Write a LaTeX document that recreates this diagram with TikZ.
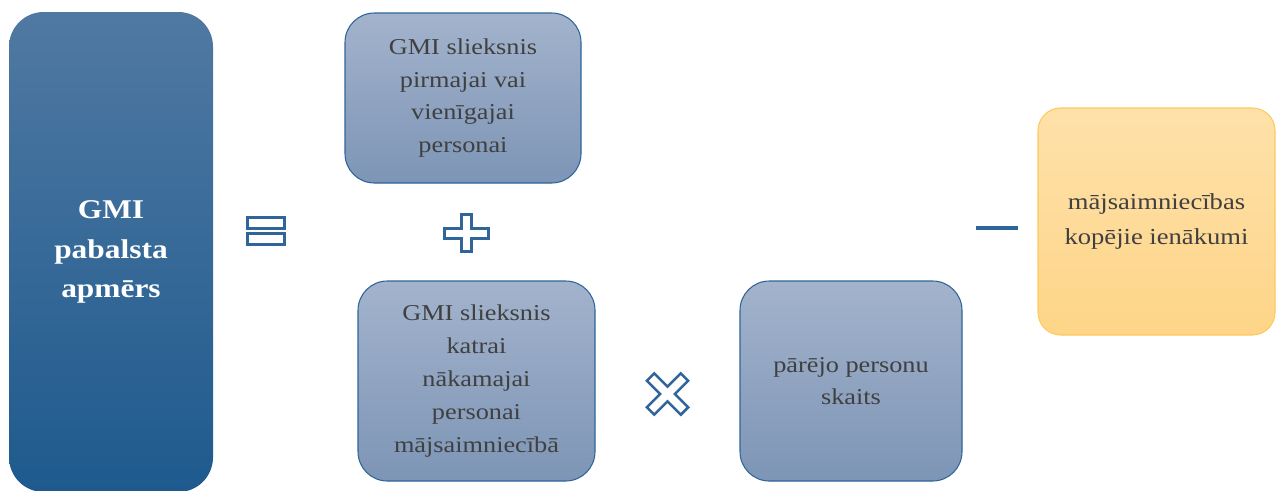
\documentclass[tikz,border=0pt]{standalone}
\usepackage{fontspec}
\setmainfont{Liberation Serif}[FakeStretch=1.16]
\usepackage{xcolor}
\usetikzlibrary{positioning}

\definecolor{gmiblue}{HTML}{2F6599}
\definecolor{gmitop}{HTML}{5079A2}
\definecolor{gmibot}{HTML}{1E5A8E}
\definecolor{greytop}{HTML}{A3B3CC}
\definecolor{greybot}{HTML}{7D95B6}
\definecolor{orangetop}{HTML}{FEE1AA}
\definecolor{orangebot}{HTML}{FED588}
\definecolor{orangeline}{HTML}{FFC95C}
\definecolor{textgrey}{HTML}{404040}

\tikzset{
  termbox/.style={draw=gmiblue, line width=0.8pt, top color=greytop, bottom color=greybot,
    rounded corners=22pt, inner sep=0pt, outer sep=0pt, align=center, text=textgrey,
    font=\fontsize{17}{24.6}\selectfont},
  resultbox/.style={draw=none, top color=gmitop, bottom color=gmibot, rounded corners=26pt,
    inner sep=0pt, outer sep=0pt, align=center, text=white,
    font=\bfseries\fontsize{20.3}{29.6}\selectfont},
  incomebox/.style={draw=orangeline, line width=0.8pt, top color=orangetop, bottom color=orangebot,
    rounded corners=17pt, inner sep=0pt, outer sep=0pt, align=center, text=textgrey,
    font=\fontsize{17.2}{26.2}\selectfont},
  opsign/.style={draw=gmiblue, line width=1.9pt, line join=miter},
}

\begin{document}
\begin{tikzpicture}[x=0.75pt, y=-0.75pt]

  % Parameters
  \def\armw{5.2}
  \def\arml{24}
  \useasboundingbox (0,0) rectangle (1276,490);

  % boxes
  \node[resultbox, minimum width=153pt, minimum height=360pt] (benefit) at (111,252)
    {GMI\\pabalsta\\apmērs};
  \node[termbox, minimum width=177pt, minimum height=127.5pt] (firstperson) at (463,98)
    {GMI slieksnis\\pirmajai vai\\vienīgajai\\personai};
  \node[termbox, minimum width=177.75pt, minimum height=150pt] (nextperson) at (476.5,381)
    {GMI slieksnis\\katrai\\nākamajai\\personai\\mājsaimniecībā};
  \node[termbox, minimum width=166.5pt, minimum height=150pt] (othercount) at (851,381)
    {pārējo personu\\skaits};
  \node[incomebox, minimum width=177.75pt, minimum height=170.25pt] (income) at (1156.5,221.5)
    {mājsaimniecības\\kopējie ienākumi};

  % equals
  \foreach \y in {217.5,233.5} {
    \draw[opsign] (247.5,\y) rectangle (284.5,\y+11);
  }

  % plus
  \draw[opsign] (461.3,214.5) -- (471.7,214.5) -- (471.7,228.3) -- (488.5,228.3)
    -- (488.5,238.7) -- (471.7,238.7) -- (471.7,251.5) -- (461.3,251.5)
    -- (461.3,238.7) -- (444.5,238.7) -- (444.5,228.3) -- (461.3,228.3) -- cycle;

  % times
  \begin{scope}[shift={(667.5,394)}, rotate=45]
    \draw[opsign] (-\armw,-\arml) -- (\armw,-\arml) -- (\armw,-\armw) -- (\arml,-\armw)
      -- (\arml,\armw) -- (\armw,\armw) -- (\armw,\arml) -- (-\armw,\arml)
      -- (-\armw,\armw) -- (-\arml,\armw) -- (-\arml,-\armw) -- (-\armw,-\armw) -- cycle;
  \end{scope}

  % minus
  \fill[gmiblue] (976,226) rectangle (1018,229.5);

\end{tikzpicture}
\end{document}
